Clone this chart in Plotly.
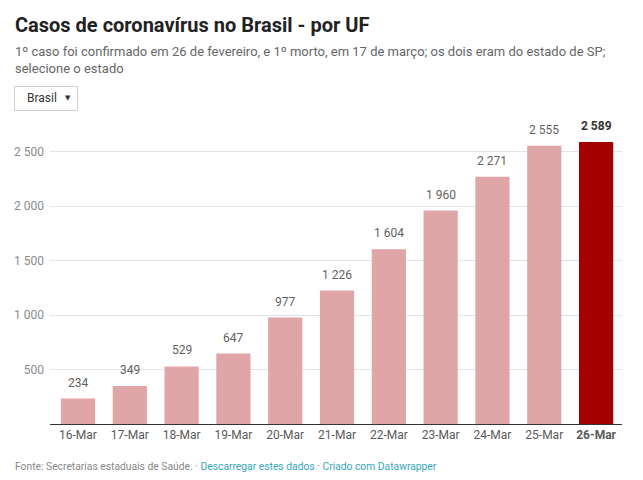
import plotly.graph_objects as go

dates = ["16-Mar", "17-Mar", "18-Mar", "19-Mar", "20-Mar", "21-Mar",
         "22-Mar", "23-Mar", "24-Mar", "25-Mar", "26-Mar"]
cases = [234, 349, 529, 647, 977, 1226, 1604, 1960, 2271, 2555, 2589]
y_ticks = [500, 1000, 1500, 2000, 2500]
y_tick_labels = ["500", "1 000", "1 500", "2 000", "2 500"]

W, H = 643, 480
ML, MR, MT, MB = 50, 21, 130, 56
PW, PH = W - ML - MR, H - MT - MB

def px_x(x):
    return (x - ML) / PW

def px_y(y):
    return (H - MB - y) / PH

n = len(dates)
colors = ["#dfa5a7"] * (n - 1) + ["#a50000"]
tick_text = dates[:-1] + ["<b>" + dates[-1] + "</b>"]

fig = go.Figure()
fig.add_trace(go.Bar(
    x=list(range(n)), y=cases,
    marker=dict(color=colors, line=dict(width=0)),
    width=0.66, hoverinfo="skip",
))

fig.update_layout(
    width=W, height=H,
    margin=dict(l=ML, r=MR, t=MT, b=MB, pad=0),
    paper_bgcolor="white", plot_bgcolor="white",
    separators=", ",
    showlegend=False,
    font=dict(family="Roboto", size=12, color="#555555"),
    xaxis=dict(
        range=[-0.54, n - 0.5], tickvals=list(range(n)), ticktext=tick_text,
        showgrid=False, zeroline=False, showline=True, linecolor="#333333",
        linewidth=1, ticks="", tickfont=dict(size=12, color="#5a5a5a"),
        fixedrange=True,
    ),
    yaxis=dict(
        range=[0, 2700], tickvals=y_ticks, ticktext=y_tick_labels,
        showgrid=True, gridcolor="#e3e3e3", gridwidth=1, zeroline=False,
        showline=False, ticks="", tickfont=dict(size=12, color="#8a8a8a"),
        ticklabelstandoff=5, fixedrange=True,
    ),
)

annotations = []
for i, v in enumerate(cases):
    last = i == n - 1
    label = f"{v:,}".replace(",", " ")
    annotations.append(dict(
        x=i, y=v, xref="x", yref="y", text=f"<b>{label}</b>" if last else label,
        xanchor="center", yanchor="bottom", yshift=7, showarrow=False,
        font=dict(family="Roboto", size=12, color="#333333" if last else "#5f5f5f"),
    ))

annotations += [
    dict(text="<b>Casos de coronavírus no Brasil - por UF</b>",
         x=px_x(13), y=px_y(11), xanchor="left", yanchor="top",
         font=dict(family="Roboto", size=20, color="#222222")),
    dict(text="1º caso foi confirmado em 26 de fevereiro, e 1º morto, em 17 de março; os dois eram do estado de SP;<br>selecione o estado",
         x=px_x(13), y=px_y(42), xanchor="left", yanchor="top", align="left",
         font=dict(family="Roboto", size=13, color="#666666")),
    dict(text="Brasil", x=px_x(25), y=px_y(98), xanchor="left", yanchor="middle",
         font=dict(family="Roboto", size=12, color="#333333")),
    dict(text="▼", x=px_x(68), y=px_y(98), xanchor="center", yanchor="middle",
         font=dict(family="DejaVu Sans", size=7, color="#333333")),
    dict(text="Fonte: Secretarias estaduais de Saúde. · "
              "<span style='color:#35a6bd'>Descarregar estes dados</span> · "
              "<span style='color:#35a6bd'>Criado com Datawrapper</span>",
         x=px_x(13), y=px_y(466), xanchor="left", yanchor="middle",
         font=dict(family="Roboto", size=10.3, color="#888888")),
]
for a in annotations[n:]:
    a.update(xref="paper", yref="paper", showarrow=False)

fig.update_layout(
    annotations=annotations,
    shapes=[dict(type="rect", xref="paper", yref="paper",
                 x0=px_x(14.5), x1=px_x(77.5), y0=px_y(86.5), y1=px_y(110.5),
                 line=dict(color="#cfcfcf", width=1), fillcolor="white", layer="above")],
)

fig.write_html("out.html")
